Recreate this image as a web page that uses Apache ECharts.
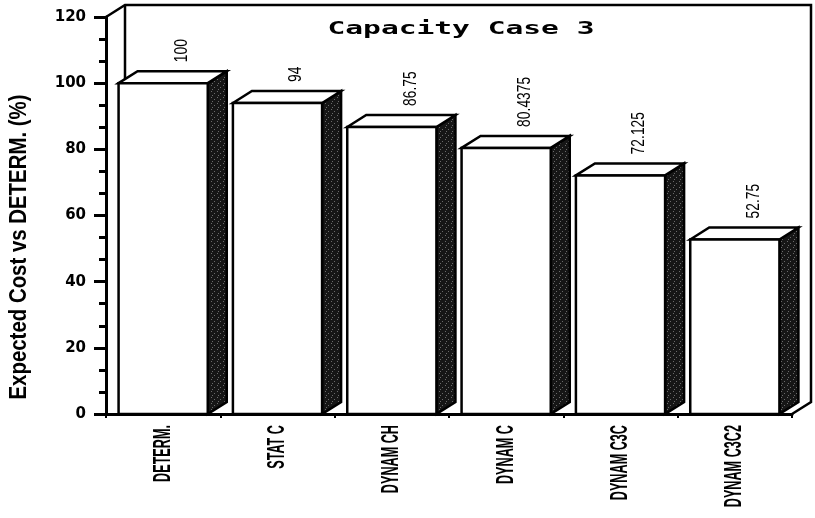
<!DOCTYPE html>
<html><head><meta charset="utf-8">
<script src="https://cdn.jsdelivr.net/npm/echarts@6/dist/echarts.min.js"></script>
<style>html,body{margin:0;padding:0;background:#fff}#c{width:815px;height:518px}</style>
</head><body><div id="c"></div>
<script>
// ---- data ----
const categories = ['DETERM.', 'STAT C', 'DYNAM CH', 'DYNAM C', 'DYNAM C3C', 'DYNAM C3C2'];
const values = [100, 94, 86.75, 80.4375, 72.125, 52.75];
const yTicks = [0, 20, 40, 60, 80, 100, 120];
const titleText = 'Capacity Case 3';
const yAxisTitle = 'Expected Cost vs DETERM. (%)';

// ---- style constants ----
const DX = 19, DY = 12;
const SANS = '"Liberation Sans", Arial, sans-serif';

function fitScale(text, font, target) {
  const g = document.createElement('canvas').getContext('2d');
  g.font = font;
  return target / g.measureText(text).width;
}

function makePattern() {
  const c = document.createElement('canvas');
  c.width = 6; c.height = 6;
  const g = c.getContext('2d');
  g.fillStyle = '#161616'; g.fillRect(0, 0, 6, 6);
  g.fillStyle = '#6a6a6a';
  [[1, 1], [4, 3], [2, 5]].forEach(p => g.fillRect(p[0], p[1], 1, 1));
  return c;
}
const sidePattern = { image: makePattern(), repeat: 'repeat' };

const titleScale = fitScale(titleText, 'bold 17px "DejaVu Sans Mono"', 267);
const yTitleScale = fitScale(yAxisTitle, 'bold 24px "Liberation Sans"', 305);

const chart = echarts.init(document.getElementById('c'), null, { renderer: 'canvas' });

function renderWall(params, api) {
  const cs = params.coordSys;
  const x0 = cs.x, y0 = cs.y, w = cs.width, h = cs.height;
  return {
    type: 'group',
    children: [
      { type: 'polyline', shape: { points: [[x0, y0], [x0 + DX, y0 - DY], [x0 + w + DX, y0 - DY], [x0 + w + DX, y0 + h - DY], [x0 + w, y0 + h]] },
        style: { fill: null, stroke: '#000', lineWidth: 2.5 } },
      { type: 'line', shape: { x1: x0 + DX, y1: y0 - DY, x2: x0 + DX, y2: y0 + h - DY },
        style: { stroke: '#000', lineWidth: 2.5 } }
    ]
  };
}

function renderBar(params, api) {
  const i = api.value(0), v = api.value(1);
  const top = api.coord([i, v]);
  const base = api.coord([i, 0]);
  const bw = api.size([1, 0])[0] * 0.78;
  const x0 = top[0] - bw / 2, x1 = top[0] + bw / 2, yt = top[1], yb = base[1];
  return {
    type: 'group',
    children: [
      { type: 'polygon', shape: { points: [[x1, yt], [x1 + DX, yt - DY], [x1 + DX, yb - DY], [x1, yb]] },
        style: { fill: sidePattern, stroke: '#000', lineWidth: 2.5 } },
      { type: 'polygon', shape: { points: [[x0, yt], [x0 + DX, yt - DY], [x1 + DX, yt - DY], [x1, yt]] },
        style: { fill: '#fff', stroke: '#000', lineWidth: 2.5 } },
      { type: 'rect', shape: { x: x0, y: yt, width: bw, height: yb - yt },
        style: { fill: '#fff', stroke: '#000', lineWidth: 2.5 } },
      { type: 'text', x: top[0] + DX, y: yt - DY - 9, rotation: Math.PI / 2, scaleX: 0.77,
        style: { text: String(v), fontFamily: SANS, fontSize: 18, fill: '#000', align: 'left', verticalAlign: 'middle' } },
      { type: 'text', x: top[0], y: yb + 11, rotation: Math.PI / 2, scaleX: 0.55,
        style: { text: categories[i], fontFamily: SANS, fontWeight: 'bold', fontSize: 23, fill: '#000', align: 'right', verticalAlign: 'middle' } }
    ]
  };
}

chart.setOption({
  backgroundColor: '#fff',
  animation: false,
  grid: { left: 106, right: 23, top: 17, bottom: 104, containLabel: false },
  xAxis: {
    type: 'category', data: categories,
    axisLine: { lineStyle: { color: '#000', width: 3 } },
    axisTick: { show: true, length: 4, lineStyle: { color: '#000', width: 2 } },
    axisLabel: { show: false },
    splitLine: { show: false }
  },
  yAxis: {
    type: 'value', min: yTicks[0], max: yTicks[yTicks.length - 1], interval: yTicks[1] - yTicks[0],
    axisLine: { show: true, lineStyle: { color: '#000', width: 3 } },
    axisTick: { show: true, length: 12, lineStyle: { color: '#000', width: 3 } },
    minorTick: { show: true, splitNumber: 3, length: 7, lineStyle: { color: '#000', width: 3 } },
    splitLine: { show: false },
    axisLabel: { color: '#000', fontFamily: 'DejaVu Sans', fontWeight: 'bold', fontSize: 15, margin: 20 }
  },
  graphic: [
    { type: 'text', x: 461, y: 30, scaleX: titleScale,
      style: { text: titleText, fontFamily: 'DejaVu Sans Mono', fontWeight: 'bold', fontSize: 17, fill: '#000', align: 'center', verticalAlign: 'middle' } },
    { type: 'text', x: 19, y: 247, rotation: Math.PI / 2, scaleX: yTitleScale,
      style: { text: yAxisTitle, fontFamily: '"Liberation Sans"', fontWeight: 'bold', fontSize: 24, fill: '#000', align: 'center', verticalAlign: 'middle' } }
  ],
  series: [
    { type: 'custom', name: 'wall', renderItem: renderWall, data: [[0, 0]], silent: true, z: 1 },
    { type: 'custom', name: 'Expected Cost', renderItem: renderBar, data: values.map((v, i) => [i, v]), encode: { x: 0, y: 1 }, z: 2 }
  ]
});
</script>
</body></html>
